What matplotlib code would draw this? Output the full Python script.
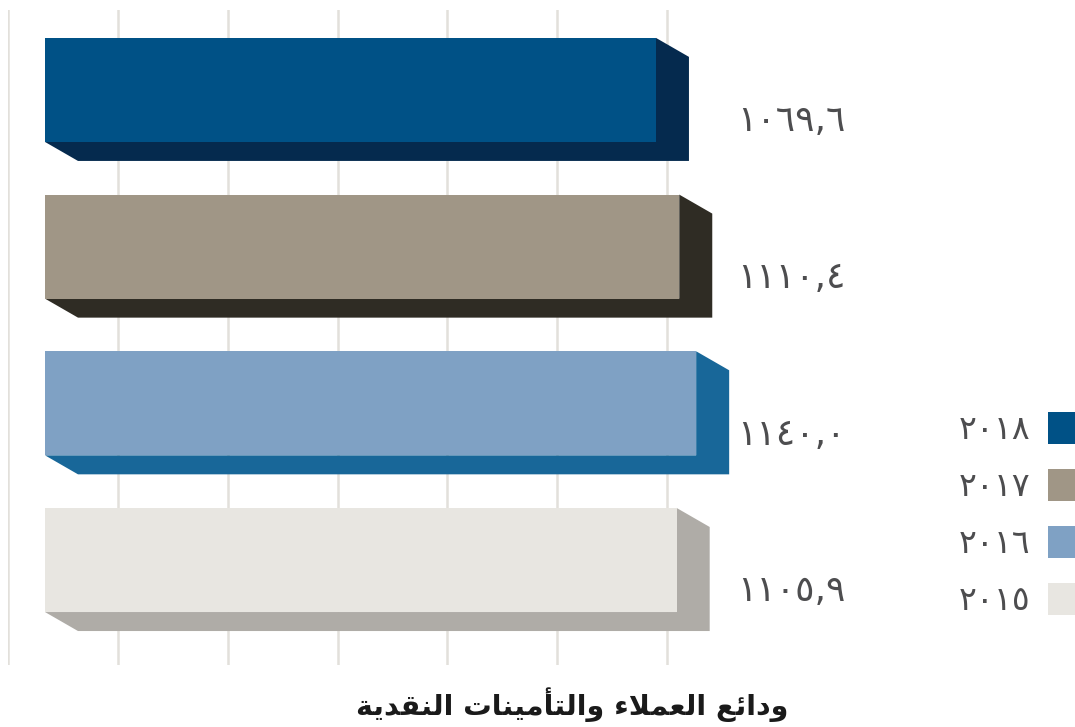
import numpy as np
import matplotlib
matplotlib.use("Agg")
import matplotlib.pyplot as plt
from matplotlib.patches import Polygon, Patch
from matplotlib.transforms import ScaledTranslation

# data (top bar first)
years = ["2018", "2017", "2016", "2015"]
values = [1069.6, 1110.4, 1140.0, 1105.9]
title = "ودائع العملاء والتأمينات النقدية"

front_colors = ["#005186", "#A09686", "#7FA1C4", "#E8E6E1"]
side_colors = ["#052A4E", "#2F2C24", "#186799", "#AFACA7"]

# --- minimal arabic shaping (matplotlib has no complex text layout) ---
FORMS = {  # iso, fin, ini, med
    "ا": (0xFE8D, 0xFE8E, None, None),
    "أ": (0xFE83, 0xFE84, None, None),
    "ء": (0xFE80, None, None, None),
    "ئ": (0xFE89, 0xFE8A, 0xFE8B, 0xFE8C),
    "ة": (0xFE93, 0xFE94, None, None),
    "ت": (0xFE95, 0xFE96, 0xFE97, 0xFE98),
    "د": (0xFEA9, 0xFEAA, None, None),
    "ع": (0xFEC9, 0xFECA, 0xFECB, 0xFECC),
    "ق": (0xFED5, 0xFED6, 0xFED7, 0xFED8),
    "ل": (0xFEDD, 0xFEDE, 0xFEDF, 0xFEE0),
    "م": (0xFEE1, 0xFEE2, 0xFEE3, 0xFEE4),
    "ن": (0xFEE5, 0xFEE6, 0xFEE7, 0xFEE8),
    "و": (0xFEED, 0xFEEE, None, None),
    "ي": (0xFEF1, 0xFEF2, 0xFEF3, 0xFEF4),
}
LAM_ALEF = {"ا": (0xFEFB, 0xFEFC), "أ": (0xFEF7, 0xFEF8)}


def dual(c):
    return c in FORMS and FORMS[c][2] is not None


def joins(c):
    return c in FORMS and FORMS[c][1] is not None


def shape(s):
    out = []
    i = 0
    while i < len(s):
        c = s[i]
        prev = s[i - 1] if i > 0 else ""
        nxt = s[i + 1] if i + 1 < len(s) else ""
        if c not in FORMS:
            out.append(c)
            i += 1
            continue
        cp = dual(prev) and joins(c)
        if c == "ل" and nxt in LAM_ALEF:
            out.append(chr(LAM_ALEF[nxt][1 if cp else 0]))
            i += 2
            continue
        cn = dual(c) and joins(nxt)
        iso, fin, ini, med = FORMS[c]
        if cp and cn:
            code = med
        elif cp:
            code = fin
        elif cn:
            code = ini
        else:
            code = iso
        out.append(chr(code))
        i += 1
    return "".join(reversed(out))


def arabic_digits(s):
    return s.translate(str.maketrans("0123456789", "٠١٢٣٤٥٦٧٨٩"))


plt.rcParams["font.family"] = ["DejaVu Sans"]

fig = plt.figure(figsize=(10.75, 7.27), dpi=100)
ax = fig.add_axes([8 / 1075, 62 / 727, 672 / 1075, 655 / 727])

px_per_unit = 0.5712
ax.set_xlim(0, 672 / px_per_unit)
ax.set_ylim(-0.67, 3.51)

ypos = np.arange(len(values))[::-1]
h = 0.664
dx = 33 / px_per_unit
dy = 19 / 156.7
shift = ax.transData + ScaledTranslation(0.37, 0, fig.dpi_scale_trans)

for y, v, fc, sc in zip(ypos, values, front_colors, side_colors):
    depth = Polygon([(0, y - h / 2), (v, y - h / 2), (v, y + h / 2),
                     (v + dx, y + h / 2 - dy), (v + dx, y - h / 2 - dy),
                     (dx, y - h / 2 - dy)],
                    closed=True, facecolor=sc, edgecolor="none",
                    transform=shift, clip_on=False, zorder=2)
    ax.add_patch(depth)
    ax.barh(y, v, height=h, color=fc, transform=shift, clip_on=False, zorder=3)
    lbl = arabic_digits(f"{v:.1f}".replace(".", ","))
    ax.text(1276, y - 0.2, lbl, fontsize=26, color="#4D4D4F",
            ha="left", va="center", clip_on=False)

ax.set_xticks(np.linspace(0, 1154, 7))
ax.grid(axis="x", color="#E2E0DB", lw=1.8)
ax.grid(axis="y", visible=False)
ax.set_axisbelow(True)
ax.tick_params(length=0, labelbottom=False, labelleft=False)
for s in ax.spines.values():
    s.set_visible(False)

handles = [Patch(facecolor=c, edgecolor="none") for c in front_colors]
ax.legend(handles, [arabic_digits(y) for y in years], loc="upper right",
          bbox_to_anchor=(1085 / 1075, 1 - 412 / 727),
          bbox_transform=fig.transFigure, frameon=False, markerfirst=False,
          fontsize=24, handlelength=1.1, handleheight=1.1,
          handletextpad=0.55, labelspacing=0.68, borderpad=0, borderaxespad=0,
          labelcolor="#4D4D4F")

fig.text(572 / 1075, 1 - 705 / 727, shape(title), fontsize=20.5,
         fontweight="bold", color="#1a1a1a", ha="center", va="center")

fig.savefig("out.png", dpi=100)
